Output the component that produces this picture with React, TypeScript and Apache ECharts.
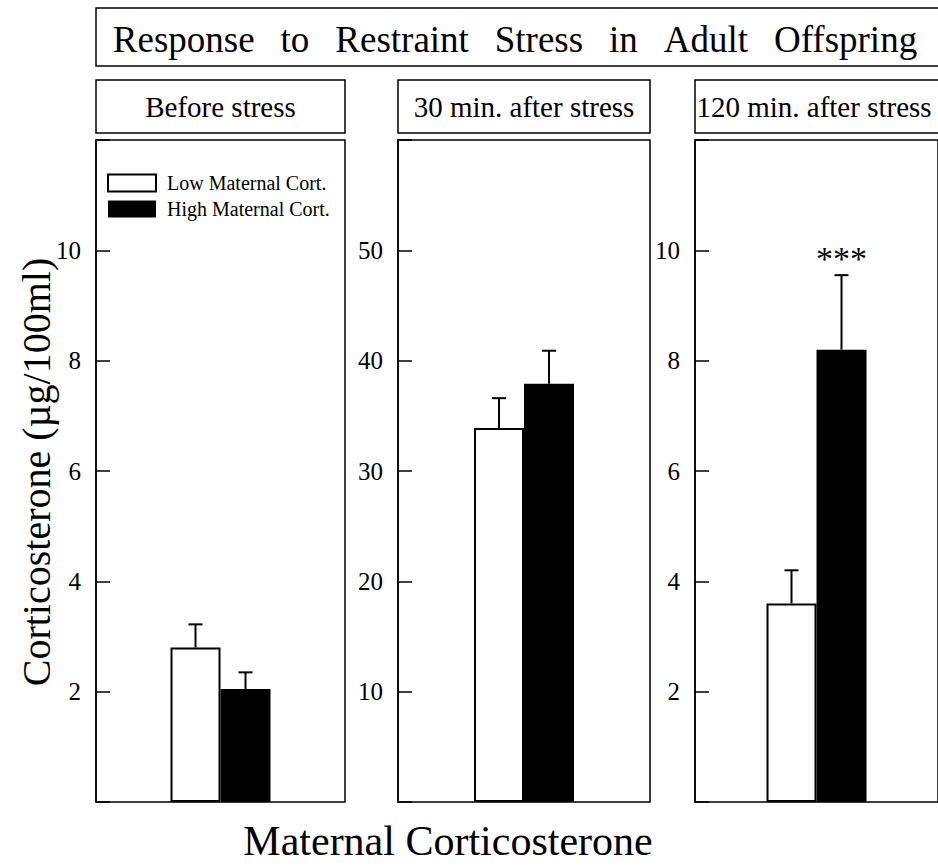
import React, { useEffect, useRef } from 'react';
import * as echarts from 'echarts';

// ---- data ----
const panelTitles = ['Before stress', '30 min. after stress', '120 min. after stress'];
const seriesNames = ['Low Maternal Cort.', 'High Maternal Cort.'];
const categories = ['Maternal'];
const lowMean = [2.8, 33.9, 3.6];
const lowErr = [0.42, 2.7, 0.6];
const highMean = [2.05, 37.9, 8.2];
const highErr = [0.3, 3.0, 1.35];
const significance = ['', '', '***'];
const yMax = [12, 60, 12];
const yInterval = [2, 10, 2];
const GAP = '\u2002\u2009';
const chartTitle = ['Response', 'to', 'Restraint', 'Stress', 'in', 'Adult', 'Offspring'].join(GAP);
const yTitle = 'Corticosterone (\u00b5g/100ml)';
const xTitle = 'Maternal Corticosterone';

// ---- layout ----
const FONT = '"Liberation Serif", "Times New Roman", serif';
const GRID_LEFT = [96, 398, 695];
const GRID_W = [249, 252, 250];
const HEADER_CX = [220.5, 524, 814];
const GRID_TOP = 140;
const GRID_H = 662;
const BAR_W = 50;

export default function App() {
  const ref = useRef<HTMLDivElement>(null);
  useEffect(() => {
    if (!ref.current) return;
    const chart = echarts.init(ref.current, null, { renderer: 'svg' });

    const grid = panelTitles.map((_, i) => ({
      left: GRID_LEFT[i], top: GRID_TOP, width: GRID_W[i], height: GRID_H,
      show: true, borderColor: '#000', borderWidth: 1.5, backgroundColor: 'transparent',
    }));
    const xAxis = panelTitles.map((_, i) => ({
      type: 'category', gridIndex: i, data: categories,
      axisLine: { show: false }, axisTick: { show: false }, axisLabel: { show: false },
    }));
    const yAxis = panelTitles.map((_, i) => ({
      type: 'value', gridIndex: i, min: 0, max: yMax[i], interval: yInterval[i],
      splitLine: { show: false },
      axisLine: { show: true, lineStyle: { color: '#000', width: 1.5 } },
      axisTick: { show: true, inside: true, length: 14, lineStyle: { color: '#000', width: 1.5 } },
      axisLabel: {
        fontSize: 25, fontFamily: FONT, color: '#000', margin: 15,
        formatter: (v: number) => (v === 0 || v === yMax[i] ? '' : String(v)),
      },
    }));

    const series: any[] = [];
    panelTitles.forEach((_, i) => {
      series.push({
        type: 'bar', name: seriesNames[0], xAxisIndex: i, yAxisIndex: i,
        data: [lowMean[i]], barWidth: BAR_W, barGap: '0%',
        itemStyle: { color: '#fff', borderColor: '#000', borderWidth: 2 },
      });
      series.push({
        type: 'bar', name: seriesNames[1], xAxisIndex: i, yAxisIndex: i,
        data: [highMean[i]], barWidth: BAR_W, barGap: '0%',
        itemStyle: { color: '#000', borderColor: '#000', borderWidth: 0 },
      });
      series.push({
        type: 'custom', xAxisIndex: i, yAxisIndex: i, z: 10,
        data: [
          [0, lowMean[i], lowErr[i], -1],
          [0, highMean[i], highErr[i], 1],
        ],
        renderItem: (params: any, api: any) => {
          const side = api.value(3);
          const mean = api.value(1);
          const err = api.value(2);
          const base = api.coord([api.value(0), mean]);
          const top = api.coord([api.value(0), mean + err]);
          const x = base[0] + (side * BAR_W) / 2;
          const children: any[] = [
            { type: 'line', shape: { x1: x, y1: base[1], x2: x, y2: top[1] }, style: { stroke: '#000', lineWidth: 2 } },
            { type: 'line', shape: { x1: x - 7, y1: top[1], x2: x + 7, y2: top[1] }, style: { stroke: '#000', lineWidth: 2 } },
          ];
          if (side > 0 && significance[i]) {
            children.push({
              type: 'text', x, y: top[1] - 17,
              style: { text: significance[i], fontSize: 34, fontFamily: FONT, fill: '#000', textAlign: 'center', textVerticalAlign: 'middle' },
            });
          }
          return { type: 'group', children };
        },
      });
    });

    const graphic: any[] = [
      { type: 'rect', shape: { x: 96, y: 8, width: 870, height: 58 }, style: { fill: '#fff', stroke: '#000', lineWidth: 1.5 } },
      { type: 'text', x: 515, y: 39, style: { text: chartTitle, fontSize: 37, fontFamily: FONT, fill: '#000', textAlign: 'center', textVerticalAlign: 'middle' } },
      { type: 'text', x: 36, y: 472, rotation: Math.PI / 2, style: { text: yTitle, fontSize: 40, fontFamily: FONT, fill: '#000', textAlign: 'center', textVerticalAlign: 'middle' } },
      { type: 'text', x: 448, y: 841, style: { text: xTitle, fontSize: 42, fontFamily: FONT, fill: '#000', textAlign: 'center', textVerticalAlign: 'middle' } },
    ];
    panelTitles.forEach((t, i) => {
      graphic.push({ type: 'rect', shape: { x: GRID_LEFT[i], y: 80, width: GRID_W[i], height: 53 }, style: { fill: '#fff', stroke: '#000', lineWidth: 1.5 } });
      graphic.push({ type: 'text', x: HEADER_CX[i], y: 107, style: { text: t, fontSize: 29, fontFamily: FONT, fill: '#000', textAlign: 'center', textVerticalAlign: 'middle' } });
    });

    chart.setOption({
      animation: false,
      backgroundColor: '#fff',
      grid, xAxis, yAxis, series, graphic,
      legend: {
        data: seriesNames, orient: 'vertical', left: 107, top: 173, padding: 0,
        itemWidth: 48, itemHeight: 17, itemGap: 6, icon: 'rect', selectedMode: false,
        textStyle: { fontSize: 20, fontFamily: FONT, color: '#000', padding: [0, 0, 0, 6] },
      },
    });
    return () => chart.dispose();
  }, []);
  return <div ref={ref} style={{ position: 'fixed', left: 0, top: 0, width: 938, height: 867 }} />;
}
